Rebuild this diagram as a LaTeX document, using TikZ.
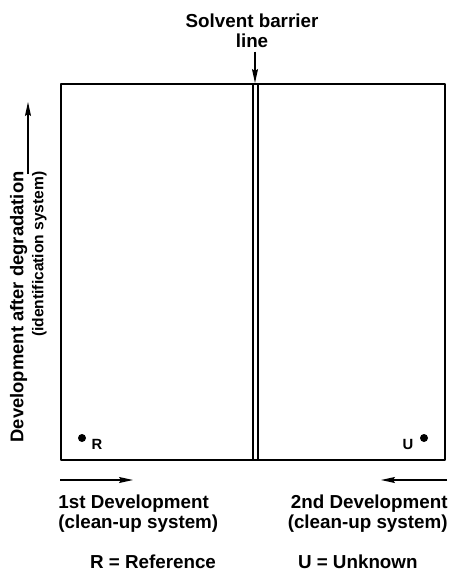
\documentclass[tikz,border=0pt]{standalone}
\usepackage{fontspec}
\setmainfont{Liberation Sans}
\usetikzlibrary{arrows.meta}
\usetikzlibrary{calc}
\usetikzlibrary{positioning}

\begin{document}
\begin{tikzpicture}[x=0.5pt,y=-0.5pt]
	\begin{scope}[>={Stealth[length=7pt,width=3pt,inset=1pt]}, line join=round, font=\bfseries\fontsize{9.4}{10}\selectfont]

	\useasboundingbox (0,0) rectangle (452,573);

	% plate and solvent barrier
	\draw [line width=1.1pt] (61,84) rectangle (445,460);
\foreach \x in {253,258}
{
	\draw [line width=0.9pt] (\x,84) -- (\x,460);
}
	\coordinate (bartop) at (255,83);
	\node [align=center, inner sep=0pt, anchor=north] (barrierlbl) at (252,13) {Solvent barrier\\line};
	\draw [->, line width=0.6pt, shorten <=2pt] (barrierlbl.south -| bartop) -- (bartop);

	% spots
	\fill (82,438) circle [radius=2pt];
	\node [font=\bfseries\fontsize{7.4}{8}\selectfont, inner sep=0pt] (rlbl) at (97,444) {R};
	\fill (424,438) circle [radius=2pt];
	\node [font=\bfseries\fontsize{7.4}{8}\selectfont, inner sep=0pt] (ulbl) at (408,444) {U};

	% vertical direction
	\node [rotate=90, align=right, inner sep=0pt, anchor=south east, font=\bfseries\fontsize{9.2}{10}\selectfont] (ylbl) at (47,171) {Development after degradation\\\fontsize{7.8}{11.5}\selectfont(identification system)};
	\coordinate (ytail) at (28,174);
	\coordinate (ytip) at (28,102);
	\draw [->, line width=0.6pt] (ytail) -- (ytip);

	% horizontal directions
	\coordinate (firsttail) at (60,480);
	\coordinate (firsttip) at (133,480);
	\draw [->, line width=0.6pt] (firsttail) -- (firsttip);
	\coordinate (secondtail) at (447,480);
	\coordinate (secondtip) at (381,480);
	\draw [->, line width=0.6pt] (secondtail) -- (secondtip);

	\node [align=left, inner sep=0pt, anchor=north west] (firstlbl) at (58,494) {1st Development\\(clean-up system)};
	\node [align=right, inner sep=0pt, anchor=north east] (secondlbl) at (448,494) {2nd Development\\(clean-up system)};

	% key
	\node [inner sep=0pt, anchor=base] (rkey) at (153,568) {R = Reference};
	\node [inner sep=0pt, anchor=base east] (ukey) at (418,568) {U = Unknown};

	\end{scope}
\end{tikzpicture}
\end{document}
